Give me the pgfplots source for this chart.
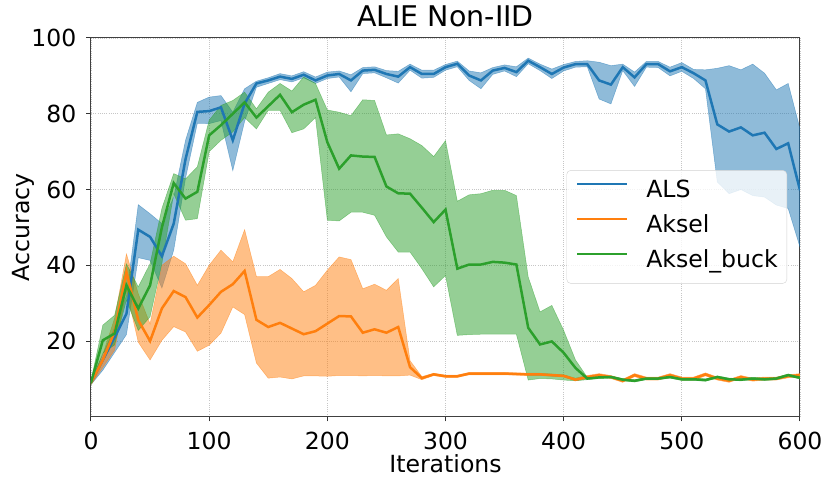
\documentclass[border=0pt]{standalone}
\usepackage{fontspec}
\setmainfont{DejaVu Sans}
\usepackage{pgfplots}
\usepackage{pgfplotstable}
\pgfplotsset{compat=1.18}
\usepgfplotslibrary{fillbetween}
\definecolor{c0}{RGB}{31,119,180}
\definecolor{c1}{RGB}{255,127,14}
\definecolor{c2}{RGB}{44,160,44}

\pgfplotstableread{
x m u l
0 9 9.5 8.5
10 15 16.5 12.3
20 21 23.5 17
30 27.2 32 21.7
40 49.4 56 42
50 47.5 53.6 41.3
60 42.4 51 34
70 51 58 44
80 68 73 63
90 80.5 83 77.5
100 80.7 84.4 77.4
110 81.7 84.8 78.2
120 73 80.4 65
130 82.7 86.6 78
140 88 88.6 87
150 88.8 89.5 88
160 89.8 90.6 89
170 89.2 90 88.4
180 90.3 91.1 89.5
190 88.8 89.7 88
200 90.1 91 89.3
210 90.5 91.3 89.7
220 88.8 90.3 85.8
230 91.4 92.2 90.6
240 91.6 92.4 90.8
250 90.5 91.4 89.5
260 89.8 91.2 88.1
270 92.3 93.1 91.5
280 90.5 91.5 89.4
290 90.5 91.5 89.6
300 92.3 93 91.5
310 93.2 93.9 92.4
320 90.1 91.3 88.8
330 88.8 90.8 86.6
340 91.4 92.2 90.4
350 92.1 92.9 91.3
360 91 92.4 89.8
370 94 94.7 93.2
380 92.3 93.1 91.4
390 90.5 91.8 89.3
400 92.2 93 91.3
410 93.1 93.8 92.3
420 93.1 94 92.4
430 88.8 93.6 83.9
440 87.7 92.7 82.6
450 92.3 93.1 91.4
460 89.6 91 87.2
470 93.1 93.8 92.3
480 93.1 93.8 92.2
490 91.2 92.3 90
500 92.3 93.5 91.2
510 90.7 91.7 89.3
520 88.8 91.6 86.6
530 77.2 92 62
540 75.3 92.7 58.9
550 76.4 91.6 60
560 74.3 93.1 58.4
570 75 90.7 58
580 70.7 86.3 55.9
590 72.2 88 55
600 59.8 76 44.8
}\als

\pgfplotstableread{
x m u l
0 9 9.5 8.5
10 15 16.5 13
20 22.5 26 17.6
30 38.2 43 33.4
40 25.5 32.5 19.7
50 20 24.5 15
60 28.6 40 20.2
70 33.2 42.4 23.8
80 31.6 40.4 22.4
90 26.2 34.7 17.3
100 29.5 40 18.9
110 33 44 22.1
120 35 40.9 29
130 38.5 49.4 27
140 25.6 37 14.2
150 23.7 37 10.2
160 24.8 38.9 10.5
170 23.3 36.5 10
180 21.8 33 10.8
190 22.6 34.7 10.8
200 24.6 38.7 10.7
210 26.6 42.2 10.9
220 26.5 41.5 10.9
230 22.2 33.8 10.8
240 23.1 35 10.9
250 22.2 33.4 10.8
260 23.7 36.5 10.8
270 13.1 14.8 11
280 10.2 10.6 9.8
290 11.2 11.5 10.9
300 10.7 11 10.4
310 10.7 11 10.4
320 11.4 11.7 11.1
330 11.4 11.7 11.1
340 11.4 11.7 11.1
350 11.4 11.7 11.1
360 11.3 11.6 11
370 11.2 11.5 10.9
380 11.2 11.5 10.9
390 11 11.3 10.7
400 10.8 11.1 10.5
410 9.8 10.2 9.5
420 10.5 10.9 10.1
430 11 11.4 10.6
440 10.5 10.9 10.1
450 9.5 9.9 9.1
460 11 11.4 10.6
470 10.1 10.5 9.7
480 10.1 10.5 9.7
490 11 11.4 10.6
500 10.1 10.5 9.7
510 10.1 10.5 9.7
520 11.2 11.6 10.8
530 10.1 10.5 9.7
540 9.5 9.9 9.1
550 10.5 10.9 10.1
560 9.8 10.2 9.4
570 10.1 10.5 9.7
580 10.1 10.5 9.7
590 10.7 11.1 10.3
600 11 11.4 10.6
}\aksel

\pgfplotstableread{
x m u l
0 9 9.5 8.5
10 20.2 24.2 16.8
20 22 26.8 19
30 34.7 40.4 30.8
40 28.6 34.3 22.8
50 34.7 40.4 26.4
60 50 55 40.5
70 61.7 64.2 58.9
80 57.6 62.8 51.9
90 59.4 66 52.3
100 74.3 78.3 70
110 77 82.2 73
120 80 83.5 75.2
130 83 85.7 79
140 79 81.3 76
150 82 85.7 80.9
160 85 88 80.9
170 80.4 86 75
180 82.4 89.7 76
190 83.7 88 79
200 72.5 81 51.9
210 65.5 80.4 51.7
220 69 79.5 54
230 68.7 83.7 54
240 68.6 83.5 53.2
250 60.8 74.4 47.5
260 59 74.7 43.5
270 58.9 73.4 43.5
280 55.2 71.6 39.1
290 51.4 68.7 34.3
300 54.7 72.9 37.3
310 39.1 56.9 21.5
320 40.2 58.6 21.7
330 40.2 58.9 21.8
340 40.9 59.8 21.8
350 40.7 59.8 21.8
360 40.2 58.4 21.8
370 23.5 36.9 9.7
380 19.1 27.7 10.1
390 19.9 29.4 10
400 16.9 22.8 9.7
410 12.9 15 9.5
420 10.1 10.4 9.8
430 10.4 10.7 10.1
440 10.5 10.8 10.2
450 9.8 10.1 9.5
460 9.5 9.8 9.2
470 10.1 10.4 9.8
480 10.1 10.4 9.8
490 10.5 10.8 10.2
500 9.9 10.2 9.6
510 9.9 10.2 9.6
520 9.7 10 9.4
530 10.5 10.8 10.2
540 9.9 10.2 9.6
550 9.8 10.1 9.5
560 10.1 10.4 9.8
570 9.9 10.2 9.6
580 10.1 10.4 9.8
590 11 11.3 10.7
600 10.3 10.6 10
}\buck

\begin{document}
\begin{tikzpicture}
\begin{axis}[
  at={(0,0)}, anchor=south west,
  scale only axis, width=709pt, height=378.8pt,
  xmin=0, xmax=600, ymin=0, ymax=100,
  xtick={0,100,...,600}, ytick={20,40,60,80,100},
  /pgf/number format/assume math mode=true,
  ticklabel style={font=\fontsize{23.5pt}{28pt}\selectfont, inner sep=0pt},
  xticklabel shift=10.5pt, yticklabel shift=10pt,
  tick pos=left, tick align=outside, major tick length=4.5pt,
  every tick/.style={black!80, line width=1pt},
  axis line style={black!75, line width=1pt},
  grid=major, grid style={gray!45, line width=0.7pt, dash pattern=on 1pt off 1.2pt},
  xlabel={Iterations}, ylabel={Accuracy},
  label style={font=\fontsize{23.6pt}{28pt}\selectfont, inner sep=0pt},
  xlabel style={at={(axis description cs:0.5,-0.099)}, anchor=north},
  ylabel style={at={(axis description cs:-0.079,0.5)}, anchor=south, rotate=0},
  title={ALIE Non-IID},
  title style={font=\fontsize{28.5pt}{34pt}\selectfont, inner sep=0pt, at={(axis description cs:0.5,1.0158)}, anchor=base},
  legend style={at={(axis description cs:0.9817,0.651)}, anchor=north east,
    font=\fontsize{23.6pt}{28pt}\selectfont,
    draw=gray!35, fill=white, fill opacity=0.8, text opacity=1, rounded corners=4pt,
    nodes={inner sep=0pt, text height=17pt, text depth=5pt},
    row sep=13pt, column sep=18pt, inner xsep=9pt, inner ysep=10.5pt},
  legend cell align=left,
  legend image code/.code={\draw[#1, line width=2.5pt] (0pt,8pt) -- (50pt,8pt);},
]
\addplot[name path=aU, draw=none, forget plot] table[x=x,y=u]{\als};
\addplot[name path=aL, draw=none, forget plot] table[x=x,y=l]{\als};
\addplot[fill=c0, fill opacity=0.5, draw=c0, draw opacity=0.5, line width=0.5pt, forget plot] fill between[of=aU and aL];
\addplot[c0, line width=2.5pt] table[x=x,y=m]{\als};
\addlegendentry{ALS}

\addplot[name path=kU, draw=none, forget plot] table[x=x,y=u]{\aksel};
\addplot[name path=kL, draw=none, forget plot] table[x=x,y=l]{\aksel};
\addplot[fill=c1, fill opacity=0.5, draw=c1, draw opacity=0.5, line width=0.5pt, forget plot] fill between[of=kU and kL];
\addplot[c1, line width=2.5pt] table[x=x,y=m]{\aksel};
\addlegendentry{Aksel}

\addplot[name path=bU, draw=none, forget plot] table[x=x,y=u]{\buck};
\addplot[name path=bL, draw=none, forget plot] table[x=x,y=l]{\buck};
\addplot[fill=c2, fill opacity=0.5, draw=c2, draw opacity=0.5, line width=0.5pt, forget plot] fill between[of=bU and bL];
\addplot[c2, line width=2.5pt] table[x=x,y=m]{\buck};
\addlegendentry{Aksel\_buck}
\end{axis}
\pgfresetboundingbox
\path[use as bounding box] (-91pt,-68.5pt) rectangle (740pt,416.8pt);
\end{tikzpicture}
\end{document}
